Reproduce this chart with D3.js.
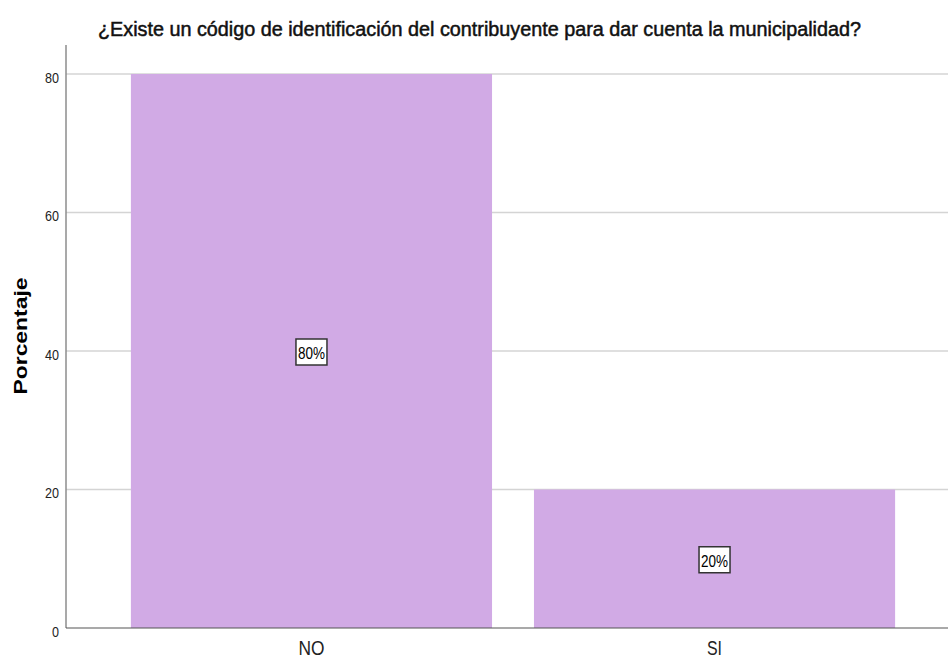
<!DOCTYPE html>
<html>
<head>
<meta charset="utf-8">
<script src="https://cdn.jsdelivr.net/npm/d3@7"></script>
<style>
  body { margin: 0; background: #fff; }
  svg { display: block; }
</style>
</head>
<body>
<div id="chart"></div>
<script>
// data
const categories = ["NO", "SI"]
const percentages = [80, 20]
const barLabels = ["80%", "20%"]
const yTicks = [0, 20, 40, 60, 80]

const width = 948
const height = 661
const margin = { top: 74, bottom: 33, left: 66 }

const font = "'Liberation Sans', Arial, sans-serif"

let x = d3.scaleBand().domain(categories).range([margin.left, 960]).paddingInner(0.104).paddingOuter(0.161)
let y = d3.scaleLinear().domain([0, 80]).range([height - margin.bottom, margin.top])

const svg = d3.select("#chart").append("svg")
    .attr("width", width)
    .attr("height", height)

// title
svg.append("text")
    .attr("x", 98)
    .attr("y", 36)
    .attr("font-family", font)
    .attr("font-size", 20)
    .attr("textLength", 763)
    .attr("lengthAdjust", "spacingAndGlyphs")
    .attr("stroke", "#111")
    .attr("stroke-width", 0.5)
    .attr("fill", "#111")
    .text("¿Existe un código de identificación del contribuyente para dar cuenta la municipalidad?")

// gridlines
svg.append("g")
    .selectAll("line")
    .data(yTicks.filter(d => d > 0))
    .join("line")
    .attr("x1", margin.left)
    .attr("x2", width)
    .attr("y1", d => y(d))
    .attr("y2", d => y(d))
    .attr("stroke", "#d4d4d4")
    .attr("stroke-width", 1.5)

// bars
svg.append("g")
    .selectAll("rect")
    .data(categories)
    .join("rect")
    .attr("x", d => x(d))
    .attr("width", x.bandwidth())
    .attr("y", (d, i) => y(percentages[i]))
    .attr("height", (d, i) => y(0) - y(percentages[i]))
    .attr("fill", "#d1aae5")

// y axis
let yAxis = g => g.attr("transform", `translate(${margin.left},0)`)
    .call(d3.axisLeft(y).tickValues(yTicks).tickSize(0).tickPadding(7))
    .call(g => g.select(".domain").remove())
    .call(g => g.selectAll("text")
        .attr("font-family", font)
        .attr("font-size", 15)
        .attr("dy", "0.55em")
        .attr("textLength", d => String(d).length * 7)
        .attr("lengthAdjust", "spacingAndGlyphs")
        .attr("fill", "#222"))
svg.append("g").call(yAxis)

svg.append("line")
    .attr("x1", margin.left).attr("x2", margin.left)
    .attr("y1", 45).attr("y2", y(0))
    .attr("stroke", "#8c8c8c").attr("stroke-width", 1.5)

// x axis
let xAxis = g => g.attr("transform", `translate(0,${y(0)})`)
    .call(d3.axisBottom(x).tickSize(0).tickPadding(12))
    .call(g => g.select(".domain").remove())
    .call(g => g.selectAll("text")
        .attr("font-family", font)
        .attr("font-size", 21)
        .attr("textLength", d => d == "NO" ? 26 : 15)
        .attr("lengthAdjust", "spacingAndGlyphs")
        .attr("fill", "#222"))
svg.append("g").call(xAxis)

svg.append("line")
    .attr("x1", margin.left).attr("x2", width)
    .attr("y1", y(0)).attr("y2", y(0))
    .attr("stroke", "#555").attr("stroke-width", 1.2)

// y axis title
svg.append("text")
    .attr("transform", `translate(27,336) rotate(-90)`)
    .attr("text-anchor", "middle")
    .attr("font-family", font)
    .attr("font-weight", "bold")
    .attr("font-size", 18)
    .attr("textLength", 117)
    .attr("lengthAdjust", "spacingAndGlyphs")
    .attr("fill", "#000")
    .text("Porcentaje")

// value labels in boxes
const lbl = svg.append("g")
    .selectAll("g")
    .data(categories)
    .join("g")
    .attr("transform", (d, i) => `translate(${x(d) + x.bandwidth() / 2},${y(percentages[i] / 2) + 1})`)

lbl.append("rect")
    .attr("x", -15.5)
    .attr("y", -13)
    .attr("width", 31)
    .attr("height", 26)
    .attr("fill", "#fff")
    .attr("stroke", "#333")
    .attr("stroke-width", 1.5)

lbl.append("text")
    .attr("x", -13.5)
    .attr("y", 7)
    .attr("font-family", font)
    .attr("font-size", 17)
    .attr("textLength", 27)
    .attr("lengthAdjust", "spacingAndGlyphs")
    .attr("fill", "#000")
    .text((d, i) => barLabels[i])
</script>
</body>
</html>
